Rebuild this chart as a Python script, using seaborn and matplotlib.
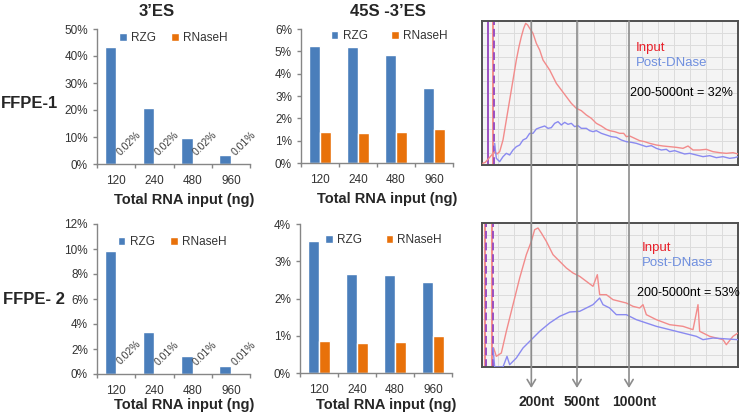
import matplotlib
matplotlib.use('Agg')
import matplotlib.pyplot as plt
import seaborn as sns
import pandas as pd
from matplotlib.ticker import MultipleLocator, FuncFormatter

sns.set_style('white')
plt.rcParams['font.family'] = ['Liberation Sans', 'DejaVu Sans']

# bar chart data (% of reads)
inputs = ['120', '240', '480', '960']
methods = ['RZG', 'RNaseH']
es3_ffpe1_rzg = [43.5, 20.8, 9.7, 3.5]
es3_ffpe1_rnaseh = [0.02, 0.02, 0.02, 0.01]
s45_ffpe1_rzg = [5.25, 5.2, 4.83, 3.35]
s45_ffpe1_rnaseh = [1.38, 1.33, 1.37, 1.5]
es3_ffpe2_rzg = [9.8, 3.4, 1.45, 0.62]
es3_ffpe2_rnaseh = [0.02, 0.01, 0.01, 0.01]
s45_ffpe2_rzg = [3.55, 2.65, 2.63, 2.43]
s45_ffpe2_rnaseh = [0.85, 0.8, 0.82, 1.0]

# electropherogram traces (arbitrary units)
e1_input_x = [2, 10, 16, 38, 45, 53, 63, 73, 83, 93, 103, 111, 118, 125, 131, 137, 143, 153, 163, 173, 183,
              193, 203, 213, 223, 238, 253, 268, 283, 298, 313, 328, 343, 358, 373, 383, 398, 413, 425,
              433, 443, 458, 473, 488, 503, 523, 543, 563, 583, 603, 618, 633, 653, 673, 693, 713, 733, 753, 768]
e1_input_y = [5, 8, 15, 40, 33, 40, 75, 135, 195, 255, 315, 355, 385, 410, 425, 420, 410, 395, 365, 345, 315,
              300, 285, 265, 245, 225, 205, 185, 170, 163, 150, 140, 125, 117, 107, 103, 100, 95, 95,
              85, 87, 80, 73, 70, 65, 60, 57, 55, 53, 50, 57, 45, 45, 47, 40, 37, 35, 37, 33]
e1_dnase_x = [38, 43, 53, 63, 73, 83, 93, 103, 113, 123, 133, 143, 153, 163, 173, 188, 198, 208, 218, 228,
              238, 248, 258, 268, 278, 288, 298, 313, 323, 333, 343, 358, 373, 388, 403, 418, 433, 448, 463,
              478, 493, 508, 523, 538, 553, 563, 578, 593, 608, 623, 643, 663, 683, 703, 723, 743, 758, 768]
e1_dnase_y = [65, 20, 10, 25, 35, 30, 45, 55, 60, 75, 80, 95, 95, 108, 112, 117, 110, 112, 125, 130,
              120, 128, 122, 125, 115, 118, 110, 110, 103, 100, 103, 95, 90, 85, 83, 75, 70, 68, 65,
              60, 55, 58, 50, 45, 47, 40, 43, 38, 33, 35, 30, 25, 28, 22, 25, 20, 22, 25]
e2_input_x = [35, 43, 58, 73, 93, 113, 133, 148, 158, 168, 178, 193, 213, 233, 253, 273, 293, 313, 333, 346,
              353, 373, 393, 413, 433, 453, 473, 483, 493, 523, 563, 603, 633, 648, 653, 683, 723, 733, 753, 768]
e2_input_y = [57, 32, 42, 107, 187, 267, 337, 377, 412, 417, 402, 377, 337, 317, 297, 282, 272, 257, 242, 277,
              217, 217, 202, 197, 192, 182, 177, 187, 157, 142, 127, 122, 112, 187, 107, 92, 82, 67, 92, 102]
e2_dnase_x = [33, 38, 63, 75, 83, 103, 123, 148, 173, 203, 233, 263, 293, 313, 333, 353, 363, 383, 403,
              433, 463, 493, 523, 563, 603, 643, 663, 693, 723, 768]
e2_dnase_y = [57, 0, 0, 32, 7, 27, 57, 82, 107, 132, 152, 165, 167, 177, 187, 207, 187, 177, 157,
              157, 142, 132, 122, 112, 102, 92, 82, 87, 85, 82]
size_marker_x = [148, 285, 441]
size_marker_labels = ['200nt', '500nt', '1000nt']

blue = '#4a7ebb'
orange = '#e8710a'
spine_c = '#868686'

W, H = 740, 415
fig = plt.figure(figsize=(7.4, 4.15), dpi=100)


def px_axes(l, t, r, b):
    return fig.add_axes([l / W, 1 - b / H, (r - l) / W, (b - t) / H])


def bar_panel(ax, rzg, rnaseh, ymax, ystep, leg_xy, colsp, show_vals, xlabel_y):
    df = pd.DataFrame({'input': inputs * 2,
                       'method': [methods[0]] * 4 + [methods[1]] * 4,
                       'value': rzg + rnaseh})
    sns.barplot(data=df, x='input', y='value', hue='method', palette=[blue, orange],
                saturation=1, width=0.6, errorbar=None, ax=ax)
    ax.set_ylim(0, ymax)
    ax.set_xlim(-0.5, 3.5)
    ax.yaxis.set_major_locator(MultipleLocator(ystep))
    ax.yaxis.set_major_formatter(FuncFormatter(lambda v, p: f'{v:.0f}%'))
    for s in ['top', 'right']:
        ax.spines[s].set_visible(False)
    for s in ['left', 'bottom']:
        ax.spines[s].set_color(spine_c)
        ax.spines[s].set_linewidth(1)
    ax.tick_params(axis='y', left=True, length=3, width=1, color=spine_c, pad=3.5, labelsize=8.5,
                   labelcolor='#333333')
    ax.tick_params(axis='x', which='major', length=0, pad=8, labelsize=8.5, labelcolor='#333333')
    ax.set_xticks([-0.5, 0.5, 1.5, 2.5, 3.5], minor=True)
    ax.tick_params(axis='x', which='minor', bottom=True, length=3, width=1, color=spine_c)
    ax.set_ylabel('')
    ax.set_xlabel('Total RNA input (ng)', fontsize=10.5, fontweight='bold')
    ax.xaxis.set_label_coords(0.57, xlabel_y)
    ax.xaxis.label.set_va('center')
    ax.legend(loc='center', bbox_to_anchor=leg_xy, ncol=2, frameon=False, fontsize=8.5,
              handlelength=0.65, handleheight=0.65, handletextpad=0.35, columnspacing=colsp,
              borderaxespad=0, labelcolor='#333333')
    if show_vals:
        for i, v in enumerate(rnaseh):
            ax.annotate(f'{v:.2f}%', xy=(i + 0.15, v), xytext=(5, 15), textcoords='offset points',
                        rotation=45, ha='center', va='center', fontsize=7.5, color='#404040')


ax1 = px_axes(97, 29, 250, 164)
ax2 = px_axes(301, 29, 453, 163)
ax3 = px_axes(97, 224, 250, 374)
ax4 = px_axes(300, 224, 452, 373)
bar_panel(ax1, es3_ffpe1_rzg, es3_ffpe1_rnaseh, 50, 10, (0.5, 0.933), 1.3, True, -0.267)
bar_panel(ax2, s45_ffpe1_rzg, s45_ffpe1_rnaseh, 6, 1, (0.58, 0.948), 2.0, False, -0.27)
bar_panel(ax3, es3_ffpe2_rzg, es3_ffpe2_rnaseh, 12, 2, (0.49, 0.88), 1.3, True, -0.207)
bar_panel(ax4, s45_ffpe2_rzg, s45_ffpe2_rnaseh, 4, 1, (0.55, 0.89), 2.0, False, -0.215)

fig.text(157 / W, 1 - 11 / H, '3’ES', ha='center', va='center', fontsize=12, fontweight='bold')
fig.text(388 / W, 1 - 11 / H, '45S -3’ES', ha='center', va='center', fontsize=12, fontweight='bold')
fig.text(1 / W, 1 - 104 / H, 'FFPE-1', ha='left', va='center', fontsize=12, fontweight='bold')
fig.text(3 / W, 1 - 299 / H, 'FFPE- 2', ha='left', va='center', fontsize=12, fontweight='bold')


def electro_panel(ax, ix, iy, dx, dy, ladder, pct, txt_pos):
    ax.set_facecolor('#f4f4f4')
    for x, c, ls in ladder:
        ax.axvline(x, color=c, lw=1.4, ls=ls, zorder=2)
    sns.lineplot(x=ix, y=iy, ax=ax, color='#f28b8b', lw=1, sort=False, estimator=None, zorder=3)
    sns.lineplot(x=dx, y=dy, ax=ax, color='#8a8af0', lw=1, sort=False, estimator=None, zorder=3)
    ax.set_xlim(0, 768)
    ax.set_ylim(0, 432)
    ax.xaxis.set_major_locator(MultipleLocator(48))
    ax.yaxis.set_major_locator(MultipleLocator(36))
    ax.grid(True, color='#dcdcdc', lw=0.7)
    ax.tick_params(labelbottom=False, labelleft=False, length=0)
    ax.set_xlabel('')
    ax.set_ylabel('')
    for s in ax.spines.values():
        s.set_color('#505050')
        s.set_linewidth(1.4)
    tx, ty = txt_pos
    ax.text(tx, ty, 'Input', transform=ax.transAxes, color='#e8202a', fontsize=9.5, va='center')
    ax.text(tx, ty - 0.105, 'Post-DNase', transform=ax.transAxes, color='#6f8fdf', fontsize=9.5, va='center')
    ax.text(tx - 0.02, ty - 0.31, f'200-5000nt = {pct}%', transform=ax.transAxes, color='black',
            fontsize=9, va='center')


ax_e1 = px_axes(482, 21, 738, 165)
ax_e2 = px_axes(482, 223, 738, 367)
electro_panel(ax_e1, e1_input_x, e1_input_y, e1_dnase_x, e1_dnase_y,
              [(19, '#9b4fc0', '-'), (33, '#f28b8b', '-'), (36, '#9b4fc0', (0, (4, 2)))], 32, (0.6, 0.81))
electro_panel(ax_e2, e2_input_x, e2_input_y, e2_dnase_x, e2_dnase_y,
              [(8, '#f28b8b', '-'), (13, '#9b4fc0', (0, (4, 2))), (31, '#f28b8b', '-'),
               (34, '#9b4fc0', (0, (4, 2)))], 53, (0.625, 0.826))
ax_e1.set_zorder(5)

for mx, lab in zip(size_marker_x, size_marker_labels):
    ax_e1.annotate('', xy=(mx, 1 - 388 / H), xycoords=('data', 'figure fraction'),
                   xytext=(mx, 1 - 21 / H), textcoords=('data', 'figure fraction'),
                   arrowprops=dict(arrowstyle='->,head_length=0.5,head_width=0.3', color='#8c8c8c',
                                   lw=1.2, shrinkA=0, shrinkB=0),
                   annotation_clip=False, zorder=6)
    ax_e1.annotate(lab, xy=(mx, 1 - 402 / H), xycoords=('data', 'figure fraction'),
                   xytext=(3.5, 0), textcoords='offset points', ha='center', va='center',
                   fontsize=10, fontweight='bold', annotation_clip=False)

fig.savefig('out.png', dpi=100)
